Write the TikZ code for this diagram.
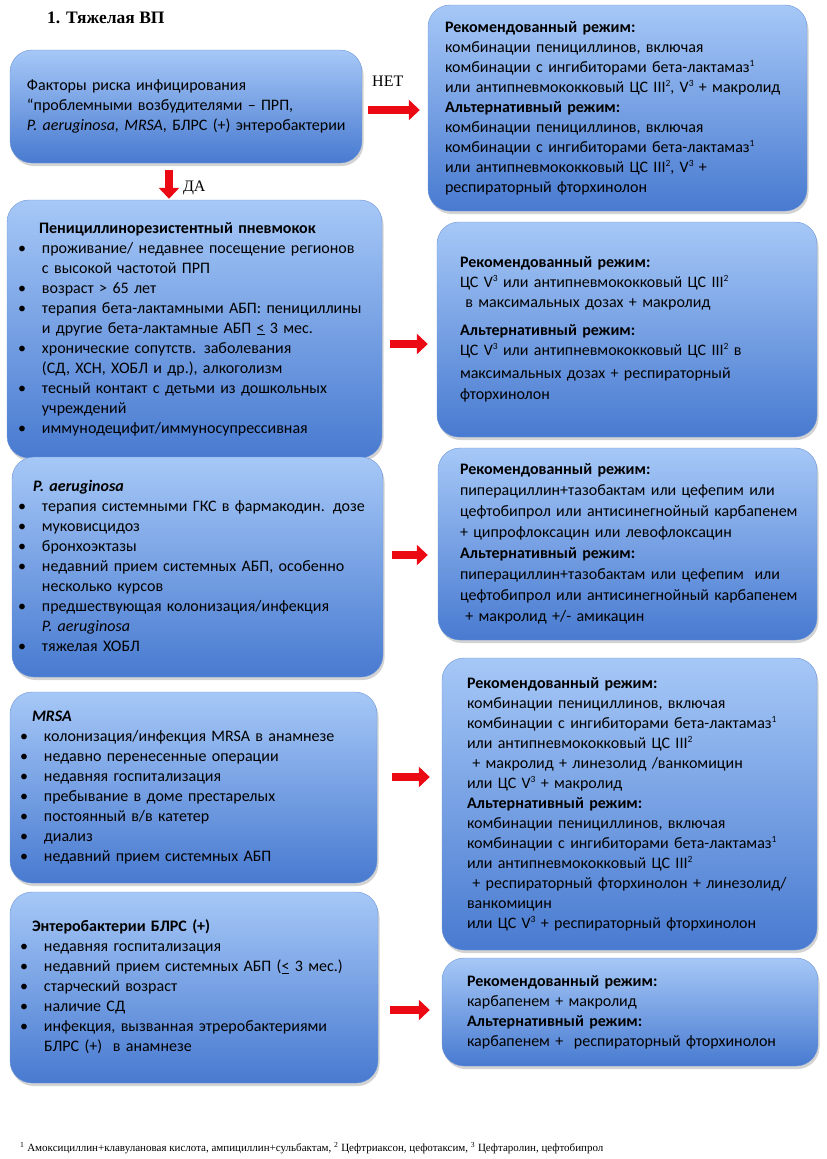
\documentclass[tikz,border=0pt]{standalone}
\usepackage{fontspec}
\setmainfont{Carlito}
\newfontfamily\timesf{Liberation Serif}
\usepackage{tikz}
\usetikzlibrary{arrows.meta,positioning,calc,shadows}

\definecolor{boxtop}{RGB}{166,200,247}
\definecolor{boxbot}{RGB}{72,122,208}
\definecolor{boxline}{RGB}{110,150,215}
\definecolor{arrred}{RGB}{235,10,20}

\newcommand{\bul}{\makebox[24pt][l]{\textbullet}}
\newcommand{\ind}{\hspace*{24pt}}
\newcommand{\sps}[1]{\raisebox{6pt}{\fontsize{9.5}{9.5}\selectfont #1}}

\begin{document}
\begin{tikzpicture}[x=1pt, y=-1pt,
  box/.style={draw=boxline, thin, rounded corners=22pt, top color=boxtop, bottom color=boxbot,
    drop shadow={shadow xshift=1.5pt, shadow yshift=-3pt, opacity=0.35},
    align=left, inner sep=0pt, font=\fontsize{16}{20}\selectfont},
  redarr/.style={draw=arrred, line width=8pt, -{Triangle[length=11pt, width=20pt]}},
  lbl/.style={font=\timesf\fontsize{16}{19}\selectfont, inner sep=0pt}
]
\useasboundingbox (0,0) rectangle (827,1159);

\node[lbl, anchor=west, font=\timesf\bfseries\fontsize{17.5}{20}\selectfont] (title) at (47,18) {1. Тяжелая ВП};

% Risk factors (top)
\node[box, minimum width=352pt, minimum height=113pt, text width=318pt] (risk) at (186,106.5) {
  \begin{tabular}{@{}l@{}}
  Факторы риска инфицирования\\
  “проблемными возбудителями – ПРП,\\
  \textit{P. aeruginosa, MRSA}, БЛРС (+) энтеробактерии
  \end{tabular}};

\node[box, minimum width=379pt, minimum height=206pt, text width=345pt] (rec1) at (617.5,108) {
  \begin{tabular}{@{}l@{}}
  \textbf{Рекомендованный режим:}\\
  комбинации пенициллинов, включая\\
  комбинации с ингибиторами бета-лактамаз\sps{1}\\
  или антипневмококковый ЦС III\sps{2}, V\sps{3} + макролид\\
  \textbf{Альтернативный режим:}\\
  комбинации пенициллинов, включая\\
  комбинации с ингибиторами бета-лактамаз\sps{1}\\
  или антипневмококковый ЦС III\sps{2}, V\sps{3} +\\
  респираторный фторхинолон
  \end{tabular}};

% Row 1: penicillin-resistant pneumococcus
\node[box, minimum width=375pt, minimum height=258pt, text width=353pt] (ppr) at (194.5,329) {
  \begin{tabular}{@{}l@{}}
  \hspace*{21pt}\textbf{Пенициллинорезистентный пневмокок}\\
  \bul проживание/ недавнее посещение регионов\\
  \ind с высокой частотой ПРП\\
  \bul возраст > 65 лет\\
  \bul терапия бета-лактамными АБП: пенициллины\\
  \ind и другие бета-лактамные АБП \underline{<} 3 мес.\\
  \bul хронические сопутств. заболевания\\
  \ind (СД, ХСН, ХОБЛ и др.), алкоголизм\\
  \bul тесный контакт с детьми из дошкольных\\
  \ind учреждений\\
  \bul иммунодецифит/иммуносупрессивная
  \end{tabular}};

\node[box, minimum width=380pt, minimum height=215pt, text width=334pt] (rec2) at (627,329.5) {
  \begin{tabular}{@{}l@{}}
  \textbf{Рекомендованный режим:}\\
  ЦС V\sps{3} или антипневмококковый ЦС III\sps{2}\\
  \ в максимальных дозах + макролид\\[8pt]
  \textbf{Альтернативный режим:}\\
  ЦС V\sps{3} или антипневмококковый ЦС III\sps{2} в\\[3pt]
  максимальных дозах + респираторный\\[1pt]
  фторхинолон
  \end{tabular}};

% Row 2: P. aeruginosa
\node[box, minimum width=371pt, minimum height=220pt, text width=359pt] (psa) at (197.5,567) {
  \begin{tabular}{@{}l@{}}
  \hspace*{15pt}\textbf{\textit{P. aeruginosa}}\\
  \bul терапия системными ГКС в фармакодин. дозе\\
  \bul муковисцидоз\\
  \bul бронхоэктазы\\
  \bul недавний прием системных АБП, особенно\\
  \ind несколько курсов\\
  \bul предшествующая колонизация/инфекция\\
  \ind\textit{P. aeruginosa}\\
  \bul тяжелая ХОБЛ
  \end{tabular}};

\node[box, minimum width=379pt, minimum height=192pt, text width=335pt] (rec3) at (627.5,544) {
  \begin{tabular}{@{}l@{}}
  \textbf{Рекомендованный режим:}\\[1pt]
  пиперациллин+тазобактам или цефепим или\\[1pt]
  цефтобипрол или антисинегнойный карбапенем\\[1pt]
  + ципрофлоксацин или левофлоксацин\\[1pt]
  \textbf{Альтернативный режим:}\\[1pt]
  пиперациллин+тазобактам или цефепим\ \ или\\[1pt]
  цефтобипрол или антисинегнойный карбапенем\\[1pt]
  \ + макролид +/- амикацин
  \end{tabular}};

% Row 3: MRSA
\node[box, minimum width=367pt, minimum height=191pt, text width=347pt] (mrsa) at (193.5,787.5) {
  \begin{tabular}{@{}l@{}}
  \hspace*{12pt}\textbf{\textit{MRSA}}\\
  \bul колонизация/инфекция MRSA в анамнезе\\
  \bul недавно перенесенные операции\\
  \bul недавняя госпитализация\\
  \bul пребывание в доме престарелых\\
  \bul постоянный в/в катетер\\
  \bul диализ\\
  \bul недавний прием системных АБП
  \end{tabular}};

\node[box, minimum width=375pt, minimum height=292pt, text width=325pt] (rec4) at (629.5,804) {
  \begin{tabular}{@{}l@{}}
  \textbf{Рекомендованный режим:}\\
  комбинации пенициллинов, включая\\
  комбинации с ингибиторами бета-лактамаз\sps{1}\\
  или антипневмококковый ЦС III\sps{2}\\
  \ + макролид + линезолид /ванкомицин\\
  или ЦС V\sps{3} + макролид\\
  \textbf{Альтернативный режим:}\\
  комбинации пенициллинов, включая\\
  комбинации с ингибиторами бета-лактамаз\sps{1}\\
  или антипневмококковый ЦС III\sps{2}\\
  \ + респираторный фторхинолон + линезолид/\\
  ванкомицин\\
  или ЦС V\sps{3} + респираторный фторхинолон
  \end{tabular}};

% Row 4: ESBL enterobacteria
\node[box, minimum width=368pt, minimum height=191pt, text width=348pt] (esbl) at (194,987.5) {
  \begin{tabular}{@{}l@{}}
  \hspace*{12pt}\textbf{Энтеробактерии БЛРС (+)}\\
  \bul недавняя госпитализация\\
  \bul недавний прием системных АБП (\underline{<} 3 мес.)\\
  \bul старческий возраст\\
  \bul наличие СД\\
  \bul инфекция, вызванная этреробактериями\\
  \ind БЛРС (+)\ \ в анамнезе
  \end{tabular}};

\node[box, minimum width=376pt, minimum height=108pt, text width=326pt] (rec5) at (630,1012) {
  \begin{tabular}{@{}l@{}}
  \textbf{Рекомендованный режим:}\\
  карбапенем + макролид\\
  \textbf{Альтернативный режим:}\\
  карбапенем +\ \ респираторный фторхинолон
  \end{tabular}};

\node[lbl, anchor=west, font=\timesf\fontsize{11}{12}\selectfont] (fn) at (20,1148)
  {\textsuperscript{1} Амоксициллин+клавулановая кислота, ампициллин+сульбактам, \textsuperscript{2} Цефтриаксон, цефотаксим, \textsuperscript{3} Цефтаролин, цефтобипрол};

% arrows
\draw[redarr, shorten <=6pt, shorten >=8pt] ([yshift=-3.5pt]risk.east) coordinate (a1)
  -- (a1 -| rec1.west) node[lbl, pos=0.39, above=20pt] (net) {НЕТ};
\draw[redarr, shorten <=7pt, shorten >=1pt] ([xshift=-17pt]risk.south) coordinate (a0)
  -- (a0 |- ppr.north) node[lbl, pos=0.68, right=10pt] (da) {ДА};

\coordinate (a2) at ([yshift=-15pt]ppr.east);
\coordinate (a3) at ([yshift=12pt]psa.east);
\coordinate (a4) at ([yshift=10.5pt]mrsa.east);
\coordinate (a5) at ([yshift=-22.5pt]esbl.east);
\draw[redarr, shorten <=8pt, shorten >=9pt] (a2) -- (a2 -| rec2.west);
\draw[redarr, shorten <=9pt, shorten >=10pt] (a3) -- (a3 -| rec3.west);
\draw[redarr, shorten <=15pt, shorten >=12pt] (a4) -- (a4 -| rec4.west);
\draw[redarr, shorten <=12pt, shorten >=12pt] (a5) -- (a5 -| rec5.west);

\end{tikzpicture}
\end{document}
